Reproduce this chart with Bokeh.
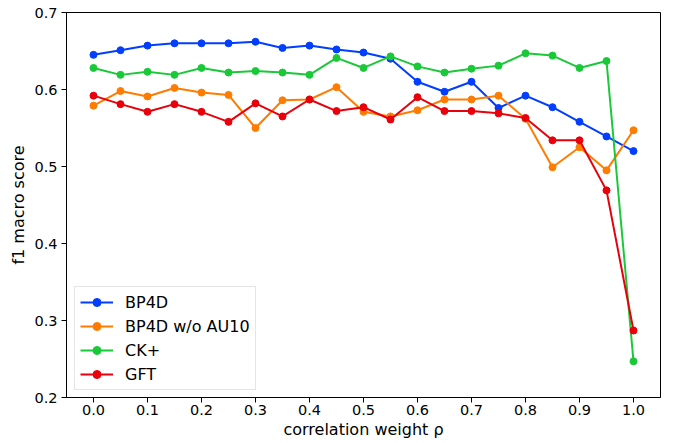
from bokeh.plotting import figure
from bokeh.models import FixedTicker, Range1d, PrintfTickFormatter, Legend, LegendItem
from bokeh.embed import file_html
from bokeh.resources import INLINE

rho = [0.0, 0.05, 0.1, 0.15, 0.2, 0.25, 0.3, 0.35, 0.4, 0.45, 0.5,
       0.55, 0.6, 0.65, 0.7, 0.75, 0.8, 0.85, 0.9, 0.95, 1.0]

bp4d = [0.645, 0.651, 0.657, 0.660, 0.660, 0.660, 0.662, 0.654, 0.657, 0.652, 0.648,
        0.640, 0.610, 0.597, 0.610, 0.576, 0.592, 0.577, 0.558, 0.539, 0.520]
bp4d_wo_au10 = [0.579, 0.598, 0.591, 0.602, 0.596, 0.593, 0.550, 0.586, 0.587, 0.603, 0.571,
                0.565, 0.573, 0.587, 0.587, 0.592, 0.562, 0.499, 0.525, 0.495, 0.547]
ckplus = [0.628, 0.619, 0.623, 0.619, 0.628, 0.622, 0.624, 0.622, 0.619, 0.641, 0.628,
          0.643, 0.630, 0.622, 0.627, 0.631, 0.647, 0.644, 0.628, 0.637, 0.247]
gft = [0.592, 0.581, 0.571, 0.581, 0.571, 0.558, 0.582, 0.565, 0.587, 0.572, 0.577,
       0.561, 0.590, 0.572, 0.572, 0.569, 0.563, 0.534, 0.534, 0.469, 0.287]

series_names = ["BP4D", "BP4D w/o AU10", "CK+", "GFT"]
series_values = [bp4d, bp4d_wo_au10, ckplus, gft]
colors = ["#023eff", "#ff7c00", "#1ac938", "#e8000b"]

x_ticks = [0.0, 0.1, 0.2, 0.3, 0.4, 0.5, 0.6, 0.7, 0.8, 0.9, 1.0]
y_ticks = [0.2, 0.3, 0.4, 0.5, 0.6, 0.7]

FONT = "DejaVu Sans"

p = figure(width=674, height=443, output_backend="svg", toolbar_location=None,
           x_range=Range1d(-0.05, 1.05), y_range=Range1d(0.2, 0.7),
           min_border_left=66, min_border_right=14, min_border_top=12, min_border_bottom=46)

items = []
for name, vals, c in zip(series_names, series_values, colors):
    lr = p.line(rho, vals, line_color=c, line_width=2)
    # small markers (hidden under the plot markers) give the smaller legend markers
    sr = p.scatter(rho, vals, size=5, fill_color=c, line_color=c)
    p.scatter(rho, vals, size=7, fill_color=c, line_color=c)
    items.append(LegendItem(label=name, renderers=[lr, sr]))

p.xgrid.visible = False
p.ygrid.visible = False
p.outline_line_color = "black"
p.outline_line_width = 1
p.background_fill_color = "white"
p.border_fill_color = "white"

for ax in (p.xaxis[0], p.yaxis[0]):
    ax.axis_line_color = "black"
    ax.major_tick_line_color = "black"
    ax.major_tick_in = 0
    ax.major_tick_out = 5
    ax.minor_tick_line_color = None
    ax.major_label_text_font = FONT
    ax.major_label_text_font_size = "14.5px"
    ax.major_label_text_color = "black"
    ax.axis_label_text_font = FONT
    ax.axis_label_text_font_size = "16px"
    ax.axis_label_text_font_style = "normal"
    ax.axis_label_text_color = "black"
    ax.formatter = PrintfTickFormatter(format="%.1f")

p.xaxis[0].ticker = FixedTicker(ticks=x_ticks)
p.yaxis[0].ticker = FixedTicker(ticks=y_ticks)
p.xaxis[0].axis_label = "correlation weight ρ"
p.yaxis[0].axis_label = "f1 macro score"
p.xaxis[0].major_label_standoff = 2
p.yaxis[0].major_label_standoff = 4
p.xaxis[0].axis_label_standoff = 2
p.yaxis[0].axis_label_standoff = 3

lg = Legend(items=items, location=(8, 7))
lg.label_text_font = FONT
lg.label_text_font_size = "16px"
lg.label_text_color = "black"
lg.glyph_width = 33
lg.glyph_height = 20
lg.label_height = 20
lg.spacing = 4
lg.padding = 5
lg.margin = 0
lg.border_line_color = "#cccccc"
lg.border_line_width = 1
lg.background_fill_alpha = 0.8
lg.label_standoff = 12
p.add_layout(lg, "center")

open("out.html", "w").write(file_html(p, INLINE))
